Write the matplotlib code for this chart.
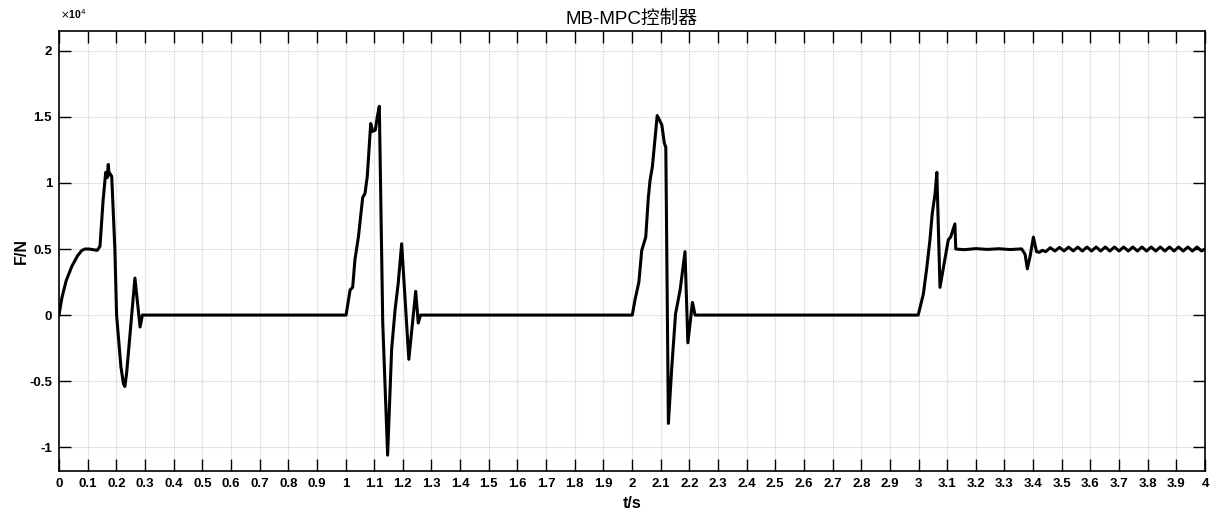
import matplotlib
matplotlib.use("Agg")
import matplotlib.pyplot as plt
import numpy as np

# ---- data (time in s, force in N) ----
t_pts = [0.000, 0.010, 0.025, 0.045, 0.065, 0.080, 0.091, 0.105, 0.120, 0.133, 0.143,
         0.154, 0.163, 0.168, 0.172, 0.175, 0.178, 0.184, 0.195, 0.201, 0.216, 0.225,
         0.230, 0.236, 0.248, 0.265, 0.283, 0.291,
         1.000, 1.002, 1.016, 1.025, 1.033, 1.045, 1.060, 1.068, 1.076, 1.088, 1.095,
         1.104, 1.111, 1.118, 1.130, 1.147, 1.161, 1.173, 1.184, 1.196, 1.221, 1.245,
         1.254, 1.262,
         2.000, 2.001, 2.010, 2.024, 2.034, 2.048, 2.057, 2.063, 2.071, 2.088, 2.104,
         2.113, 2.118, 2.127, 2.139, 2.152, 2.168, 2.185, 2.195, 2.211, 2.220,
         2.999, 3.017, 3.029, 3.040, 3.048, 3.058, 3.064, 3.075, 3.087, 3.104, 3.112,
         3.127, 3.130, 3.160, 3.200, 3.240, 3.280, 3.320, 3.360, 3.372, 3.380, 3.390,
         3.401, 3.412, 3.422, 3.432,
         3.444, 3.460, 3.476, 3.492, 3.508, 3.524, 3.540, 3.556, 3.572, 3.588, 3.604,
         3.620, 3.636, 3.652, 3.668, 3.684, 3.700, 3.716, 3.732, 3.748, 3.764, 3.780,
         3.796, 3.812, 3.828, 3.844, 3.860, 3.876, 3.892, 3.908, 3.924, 3.940, 3.956,
         3.972, 3.988, 4.000]
F_pts = [0, 1300, 2600, 3700, 4500, 4900, 5000, 5000, 4950, 4900, 5200,
         8700, 10800, 10400, 11400, 10600, 10700, 10500, 5000, 0, -3900, -5200,
         -5400, -4400, -1400, 2800, -900, 0,
         0, 0, 1900, 2100, 4200, 5900, 8900, 9200, 10500, 14500, 13900,
         14000, 15000, 15800, -600, -10600, -2600, 400, 2400, 5400, -3350, 1800,
         -600, 0,
         0, 0, 1100, 2500, 4900, 5900, 8900, 10200, 11200, 15100, 14400,
         13000, 12700, -8200, -3900, 100, 1900, 4800, -2100, 960, 0,
         0, 1600, 3600, 5700, 7700, 9200, 10800, 2100, 3600, 5700, 5900,
         6900, 5000, 4950, 5030, 4970, 5020, 4960, 5010, 4600, 3500, 4500,
         5900, 4800, 4750, 4900,
         4800, 5100, 4850, 5120, 4860, 5140, 4860, 5140, 4850, 5150, 4850,
         5150, 4850, 5150, 4850, 5150, 4850, 5150, 4850, 5150, 4850, 5150,
         4850, 5150, 4850, 5150, 4850, 5150, 4850, 5150, 4850, 5150, 4850,
         5150, 4850, 5000]

x_ticks = [round(0.1 * i, 1) for i in range(41)]
y_ticks = [-1, -0.5, 0, 0.5, 1, 1.5, 2]
title = "MB-MPC控制器"

# ---- figure ----
fig = plt.figure(figsize=(12.18, 5.13), dpi=100)
ax = fig.add_axes([59/1218, 1-471/513, (1205-59)/1218, (471-31)/513])

ax.plot(t_pts, np.array(F_pts) / 1e4, color="black", lw=2.2, solid_joinstyle="round")

ax.set_xlim(0, 4)
ax.set_ylim(-1.18, 2.15)
ax.set_xticks(x_ticks)
ax.set_xticklabels(["%g" % v for v in x_ticks])
ax.set_yticks(y_ticks)
ax.set_yticklabels(["%g" % v for v in y_ticks])

ax.grid(True, color="#cccccc", linestyle=(0, (1.2, 1.2)), linewidth=0.8)
ax.tick_params(direction="in", length=8.5, width=1.0, top=True, right=True,
               labelsize=9.5, pad=5)
for lab in ax.get_xticklabels() + ax.get_yticklabels():
    lab.set_fontweight("bold")
    lab.set_fontfamily("Liberation Sans")
for s in ax.spines.values():
    s.set_linewidth(1.2)

ax.set_xlabel("t/s", fontsize=11.5, fontweight="bold", family="Liberation Sans", labelpad=4.5)
ax.set_ylabel("F/N", fontsize=11.5, fontweight="bold", family="Liberation Sans", labelpad=0)
ax.set_title(title, fontsize=13.5, family=["Liberation Sans", "Noto Sans CJK SC"], pad=5)

fig.text(60/1218, 1-21/513, r"$\times$10$^{4}$", fontsize=7.5, fontweight="bold",
         family="Liberation Sans", ha="left", va="bottom")

fig.savefig("out.png", dpi=100)
